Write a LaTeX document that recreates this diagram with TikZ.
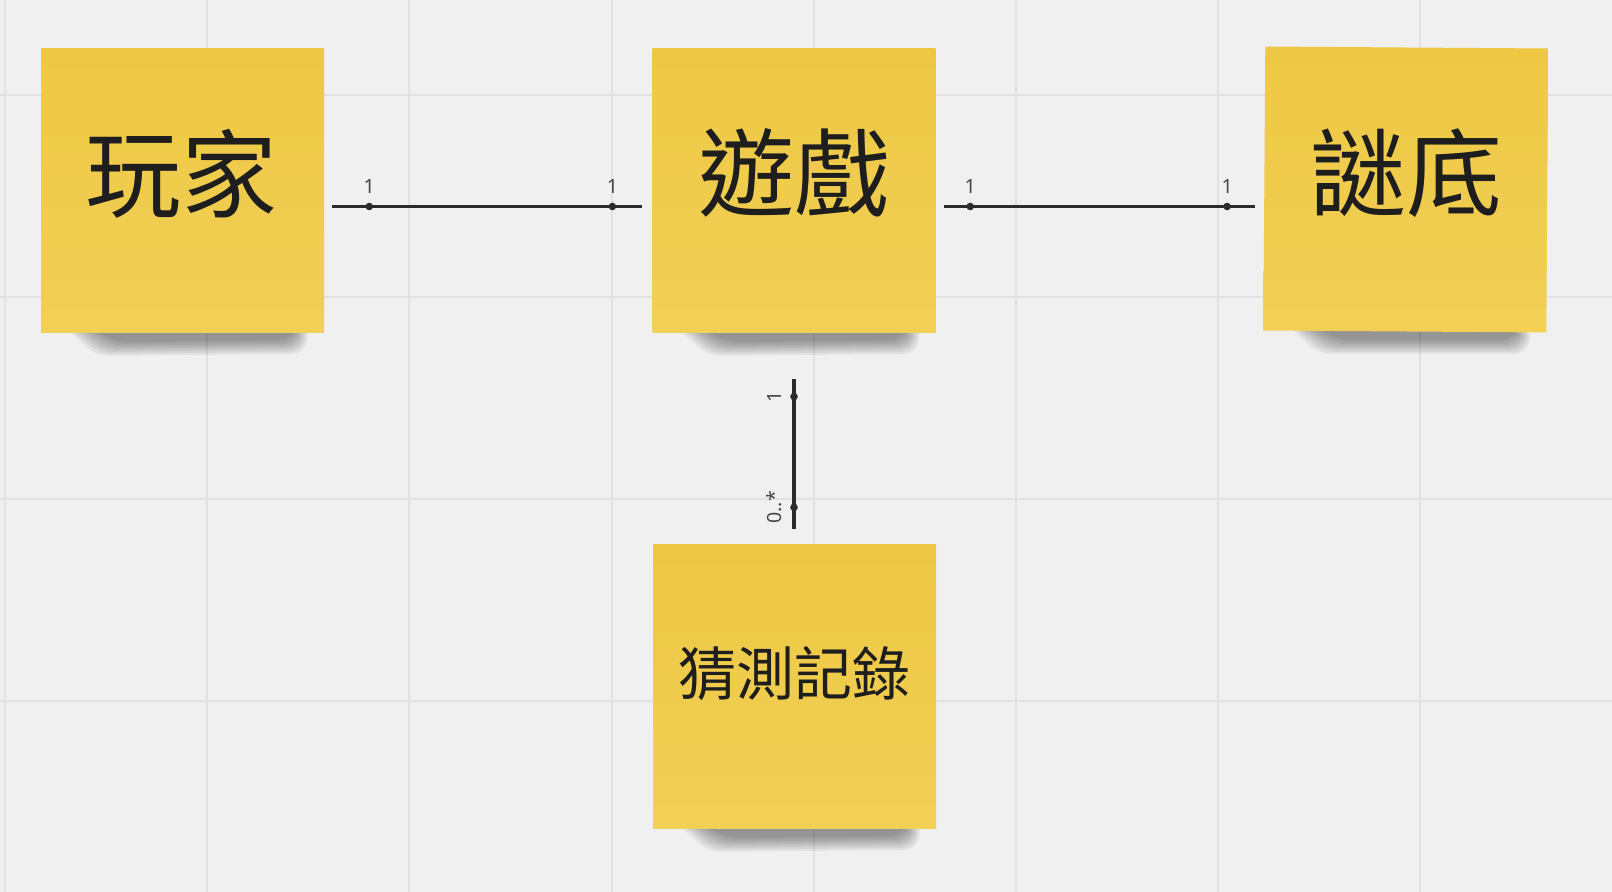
\documentclass[tikz,border=0pt]{standalone}
\usepackage{fontspec}
\setmainfont{Noto Sans}
\newfontfamily\cjk{Noto Sans CJK TC}
\usetikzlibrary{calc}
\pgfdeclarelayer{bglayer}
\pgfsetlayers{bglayer,main}
\definecolor{bgc}{RGB}{240,240,240}
\definecolor{gridc}{RGB}{225,225,225}
\definecolor{inkc}{RGB}{43,43,43}
\definecolor{stickytop}{RGB}{238,200,68}
\definecolor{stickybot}{RGB}{242,208,86}
\definecolor{lblc}{RGB}{70,70,70}
\definecolor{textc}{RGB}{30,30,30}
\tikzset{
  sticky/.style={minimum width=141.5pt, minimum height=142pt, inner sep=0pt,
    top color=stickytop, bottom color=stickybot, draw=none},
  bigtext/.style={text=textc, inner sep=0pt, font=\cjk\fontsize{48}{58}\selectfont},
  midtext/.style={text=textc, inner sep=0pt, font=\cjk\fontsize{29}{35}\selectfont},
  conn/.style={draw=inkc, line width=1.5pt},
  vconn/.style={draw=inkc, line width=1.8pt},
  dot/.style={circle, fill=inkc, inner sep=0pt, minimum size=3.8pt},
  mult/.style={text=lblc, inner sep=0pt, font=\fontsize{9.8}{11}\selectfont},
  gridline/.style={draw=gridc, line width=1pt},
  shadowlayer/.style={fill=black, opacity=0.055, rounded corners=6pt}
}
\newcommand{\stickyshadow}[1]{%
  \foreach \i in {0,...,7}{
    \fill[shadowlayer]
      ($(#1.south west)+(24+3*\i,-6)$) --
      ($(#1.south east)+(-14-2*\i,-6)$) --
      ($(#1.south east)+(-20-2*\i,21-2*\i)$) --
      ($(#1.south west)+(56+3*\i,23-2*\i)$) -- cycle;
  }%
}
\begin{document}
\begin{tikzpicture}[x=0.5pt,y=-0.5pt]
  \useasboundingbox (0,0) rectangle (1612,892);

  % stickies
  \node[sticky] (player) at (182.5,190.5) {};
  \node[sticky] (game) at (794,190.5) {};
  \node[sticky, rotate=-0.4] (answer) at (1405.8,189.5) {};
  \node[sticky] (guess) at (794.5,686.5) {};

  % texts
  \node[bigtext] (playerT) at (181.5,174) {玩家};
  \node[bigtext] (gameT) at (794,173) {遊戲};
  \node[bigtext] (answerT) at (1406,173) {謎底};
  \node[midtext] (guessT) at (794,674) {猜測記錄};

  % connectors
  \draw[conn] ($(player.east)+(8,16)$) -- ($(game.west)+(-10,16)$)
    node[dot, pos=0.119] {} node[mult, pos=0.119, yshift=10pt] {1}
    node[dot, pos=0.904] {} node[mult, pos=0.904, yshift=10pt] {1};
  \draw[conn] ($(game.east)+(8.5,16)$) -- ($(answer.west |- game.east)+(-8.5,16)$)
    node[dot, pos=0.083] {} node[mult, pos=0.083, yshift=10pt] {1}
    node[dot, pos=0.909] {} node[mult, pos=0.909, yshift=10pt] {1};
  \draw[vconn] ($(game.south)+(0,46)$) -- ($(game.south |- guess.north)+(0,-15)$)
    node[dot, pos=0.118] {} node[mult, pos=0.118, xshift=-10pt, rotate=90] {1}
    node[dot, pos=0.855] {} node[mult, pos=0.855, xshift=-10pt, rotate=90] {0..*};

  \begin{pgfonlayer}{bglayer}
    \fill[bgc] (0,0) rectangle (1612,892);
    \foreach \gx in {5,207.2,409.4,611.6,813.8,1016,1218.2,1420.4}{
      \draw[gridline] (\gx,0) -- (\gx,892);
    }
    \foreach \gy in {94.8,296.8,498.8,700.8}{
      \draw[gridline] (0,\gy) -- (1612,\gy);
    }
    \stickyshadow{player}
    \stickyshadow{game}
    \stickyshadow{answer}
    \stickyshadow{guess}
  \end{pgfonlayer}
\end{tikzpicture}
\end{document}
